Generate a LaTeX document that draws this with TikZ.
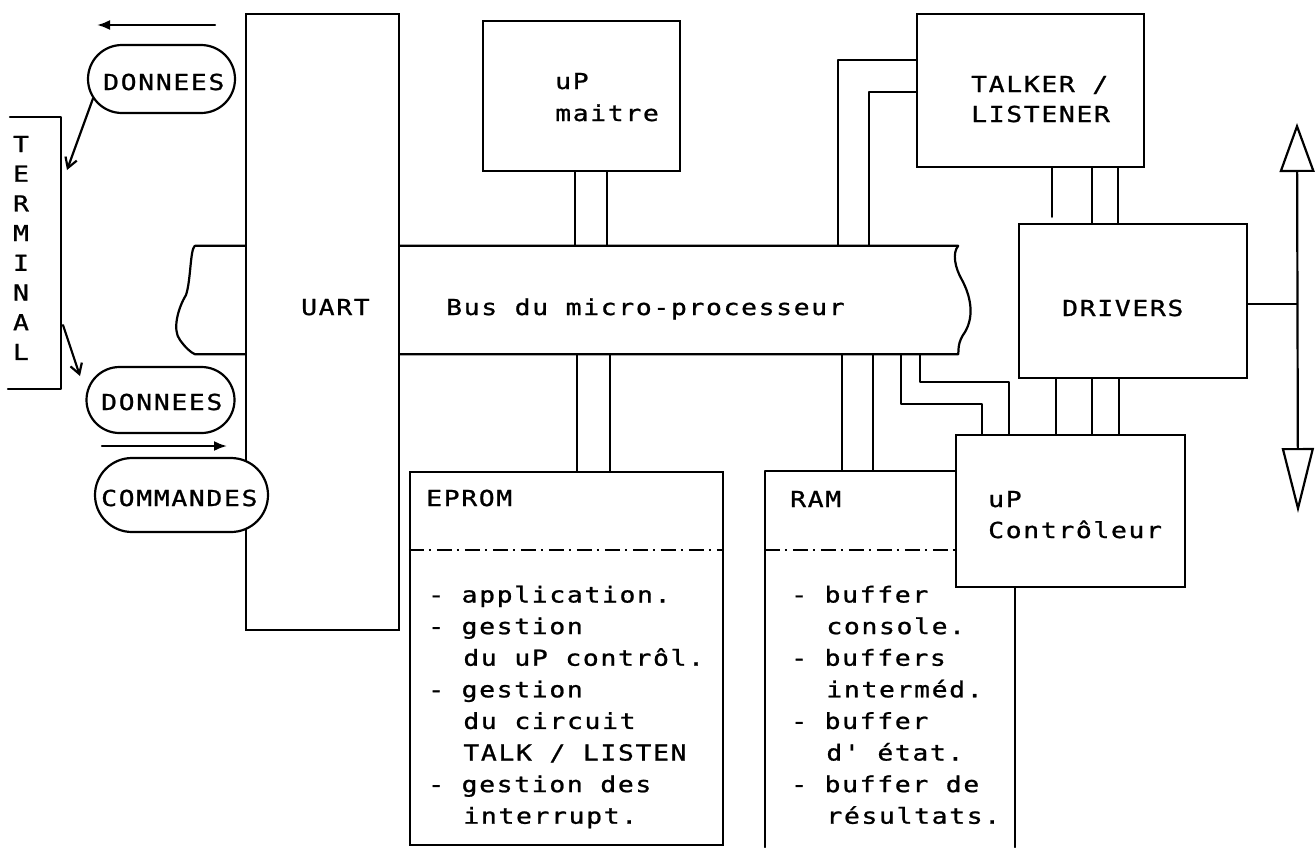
\documentclass[tikz,border=0pt]{standalone}
\usepackage{fontspec}
\newfontfamily\plotfont[FakeStretch=1.2,LetterSpace=7.5,FakeBold=1]{DejaVu Sans Mono}
\usetikzlibrary{arrows.meta,shapes.misc}

\tikzset{
  wire/.style={line width=2.2pt, line cap=round, line join=round},
  block/.style={draw, rectangle, line width=2.2pt, fill=white, inner sep=0pt},
  frame/.style={rectangle, inner sep=0pt},
  pill/.style={draw, rounded rectangle, line width=2.2pt, fill=white, inner sep=0pt},
  lbl/.style={font=\plotfont\fontsize{22}{31.6}\selectfont, inner sep=0pt, anchor=base west},
  sepline/.style={line width=1.8pt, dash pattern=on 15pt off 5pt on 2pt off 6pt},
  fillhead/.style={-{Latex[length=13pt,width=10pt]}},
  barbhead/.style={-{Straight Barb[length=10pt,width=12pt]}},
}

\begin{document}
\begin{tikzpicture}[x=1pt,y=-1pt]
\useasboundingbox (0,0) rectangle (1316,847);

% ---- microprocessor bus with broken-off ends ----
\node[frame, minimum width=763pt, minimum height=108pt] (bus) at (576.5,300) {};
\draw[wire] (bus.north west) -- (bus.north east)
  .. controls (952,253) and (955,268) .. (962,280)
  .. controls (970,295) and (975,315) .. (965,332)
  .. controls (957,343) and (959,350) .. (bus.south east)
  -- (bus.south west)
  .. controls (190,352) and (185,347) .. (180,340)
  .. controls (172,330) and (178,308) .. (186,295)
  .. controls (191,280) and (190,250) .. (bus.north west);

% ---- UART ----
\node[block, minimum width=153pt, minimum height=616pt] (uart) at (322.5,322) {};
\node[lbl] (uartlbl) at (301,315) {UART};
\node[lbl] (buslbl) at (446,315) {Bus du micro-processeur};

% ---- terminal side ----
\draw[wire] (10,117) -- (61,117) -- (61,389) -- (8,389);
\foreach \c [count=\i from 0] in {T,E,R,M,I,N,A,L}
  \node[lbl, anchor=base] (term\i) at (21,152+29.7*\i) {\c};

\node[pill, minimum width=147pt, minimum height=68pt] (don1) at (161.5,79) {};
\node[lbl] (don1lbl) at (103,90) {DONNEES};
\node[pill, minimum width=148pt, minimum height=66pt] (don2) at (160.5,400) {};
\node[lbl] (don2lbl) at (101,410) {DONNEES};
\node[pill, minimum width=173pt, minimum height=74pt] (cmd) at (181.5,495) {};
\node[lbl] (cmdlbl) at (101,506) {COMMANDES};

\coordinate (outtail) at (215,25);
\coordinate (outtip) at (97,25);
\draw[wire, fillhead] (outtail) -- (outtip);
\coordinate (termtop) at (67,170);
\draw[wire, barbhead] (don1.196) -- (termtop);
\coordinate (termbot) at (63,325);
\coordinate (don2tip) at (80,376);
\draw[wire, barbhead] (termbot) -- (don2tip);
\coordinate (cmdtail) at (102,446);
\coordinate (cmdtip) at (227,446);
\draw[wire, fillhead] (cmdtail) -- (cmdtip);

% ---- master processor ----
\node[block, minimum width=197pt, minimum height=150pt] (maitre) at (581.5,96) {};
\node[lbl] (maitrel1) at (555,89) {uP};
\node[lbl] (maitrel2) at (555,121) {maitre};
\draw[wire] (maitre.south -| 575,0) -- (bus.north -| 575,0);
\draw[wire] (maitre.south -| 607,0) -- (bus.north -| 607,0);

% ---- talker / listener ----
\node[block, minimum width=227pt, minimum height=153pt] (talker) at (1030.5,90.5) {};
\node[lbl] (talkerl1) at (971,92) {TALKER /};
\node[lbl] (talkerl2) at (971,122) {LISTENER};
\draw[wire] (bus.north -| 838,0) |- ([yshift=30.5pt]talker.west);
\draw[wire] (bus.north -| 869,0) |- ([yshift=-1.5pt]talker.west);

% ---- drivers ----
\node[block, minimum width=228pt, minimum height=154pt] (drivers) at (1133,301) {};
\node[lbl] (driverslbl) at (1062,316) {DRIVERS};
\draw[wire, shorten >=6pt] (talker.south -| 1052,0) -- (drivers.north -| 1052,0);
\draw[wire] (talker.south -| 1092,0) -- (drivers.north -| 1092,0);
\draw[wire] (talker.south -| 1118,0) -- (drivers.north -| 1118,0);

% ---- external bidirectional bus ----
\coordinate (biotop) at (1297,123);
\coordinate (biobot) at (1298,513);
\draw[wire, {Triangle[open,length=49pt,width=35pt]}-{Triangle[open,length=65pt,width=32pt]}]
  (biotop) -- (biobot);
\draw[wire] ([yshift=-3pt]drivers.east) -- ([yshift=-3pt]drivers.east -| biotop);

% ---- EPROM ----
\node[block, minimum width=313pt, minimum height=373pt] (eprom) at (566.5,658.5) {};
\draw[sepline] (eprom.west |- 0,550) -- (eprom.east |- 0,550);
\node[lbl] (epromt) at (426,506) {EPROM};
\node[lbl] (eprom1) at (428,602.5) {- application.};
\node[lbl] (eprom2) at (428,634.1) {- gestion};
\node[lbl] (eprom3) at (463.2,665.7) {du uP contrôl.};
\node[lbl] (eprom4) at (428,697.3) {- gestion};
\node[lbl] (eprom5) at (463.2,728.9) {du circuit};
\node[lbl] (eprom6) at (463.2,760.5) {TALK / LISTEN};
\node[lbl] (eprom7) at (428,792.1) {- gestion des};
\node[lbl] (eprom8) at (463.2,823.7) {interrupt.};
\draw[wire] (bus.south -| 577,0) -- (eprom.north -| 577,0);
\draw[wire] (bus.south -| 610,0) -- (eprom.north -| 610,0);

% ---- RAM (runs off the bottom edge) ----
\node[frame, minimum width=250pt, minimum height=376pt] (ram) at (890,659) {};
\draw[wire] (ram.south west) -- (ram.north west) -- (ram.north east) -- (ram.south east);
\draw[sepline] (ram.west |- 0,550) -- (ram.east |- 0,550);
\node[lbl] (ramt) at (790,507) {RAM};
\node[lbl] (ram1) at (791,602.5) {- buffer};
\node[lbl] (ram2) at (826.2,634.1) {console.};
\node[lbl] (ram3) at (791,665.7) {- buffers};
\node[lbl] (ram4) at (826.2,697.3) {interméd.};
\node[lbl] (ram5) at (791,728.9) {- buffer};
\node[lbl] (ram6) at (826.2,760.5) {d' état.};
\node[lbl] (ram7) at (791,792.1) {- buffer de};
\node[lbl] (ram8) at (826.2,823.7) {résultats.};
\draw[wire] (bus.south -| 842,0) -- (ram.north -| 842,0);
\draw[wire] (bus.south -| 873,0) -- (ram.north -| 873,0);

% ---- controller processor ----
\node[block, minimum width=229pt, minimum height=152pt] (ctrl) at (1070.5,511) {};
\node[lbl] (ctrll1) at (988,507) {uP};
\node[lbl] (ctrll2) at (988,538) {Contrôleur};
\draw[wire] (bus.south -| 920,0) -- (920,382) -| (ctrl.north -| 1009,0);
\draw[wire] (bus.south -| 901,0) -- (901,404) -| (ctrl.north -| 982,0);
\draw[wire] (drivers.south -| 1056,0) -- (ctrl.north -| 1056,0);
\draw[wire] (drivers.south -| 1092,0) -- (ctrl.north -| 1092,0);
\draw[wire] (drivers.south -| 1119,0) -- (ctrl.north -| 1119,0);

\end{tikzpicture}
\end{document}
